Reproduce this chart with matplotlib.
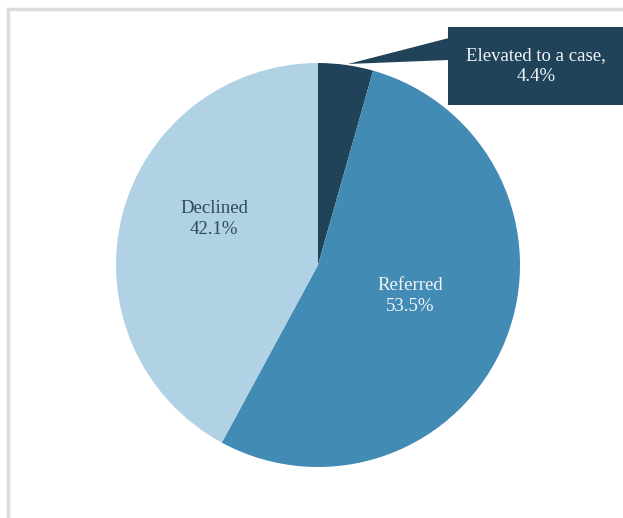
import matplotlib

matplotlib.use("Agg")
import matplotlib.pyplot as plt
from matplotlib.patches import Polygon, Rectangle

# Case outcomes (share of consultations, %)
categories = ["Elevated to a case", "Referred", "Declined"]
shares = [4.4, 53.5, 42.1]

DARK = "#21435a"
MID = "#428bb5"
LIGHT = "#b1d1e4"
colors = [DARK, MID, LIGHT]

W, H = 623, 518
fig = plt.figure(figsize=(W / 100, H / 100), dpi=100)
ax = fig.add_axes([0, 0, 1, 1])
ax.set_aspect("equal")

plt.rcParams["font.family"] = ["Liberation Serif", "DejaVu Serif"]

# light frame around the chart area
ax.add_patch(Rectangle((8, -20), W + 20, H - 9 + 20, fill=False,
                       edgecolor="#dcdcdc", lw=2.5))

ax.pie(shares, colors=colors, startangle=90, counterclock=False,
       center=(318, H - 265), radius=202, frame=True,
       wedgeprops=dict(linewidth=0))
ax.set_xlim(0, W)
ax.set_ylim(0, H)
ax.axis("off")

fs = 13.5
ax.text(214, H - 219, f"{categories[2]}\n{shares[2]:.1f}%", ha="center", va="center",
        fontsize=fs, color="#2c4a60", linespacing=1.36)
ax.text(410, H - 296, f"{categories[1]}\n{shares[1]:.1f}%", ha="center", va="center",
        fontsize=fs, color="#f2f5f8", linespacing=1.36)

# callout box for the small slice
ax.add_patch(Rectangle((448, H - 105), 180, 78, facecolor=DARK, edgecolor="none"))
ax.add_patch(Polygon([(449, H - 38), (449, H - 60), (348, H - 64)], closed=True,
                     facecolor=DARK, edgecolor="none"))
ax.text(536, H - 66, f"{categories[0]},\n{shares[0]:.1f}%", ha="center", va="center",
        fontsize=fs, color="#f2f5f8", linespacing=1.36)

fig.savefig("out.png", dpi=100)
